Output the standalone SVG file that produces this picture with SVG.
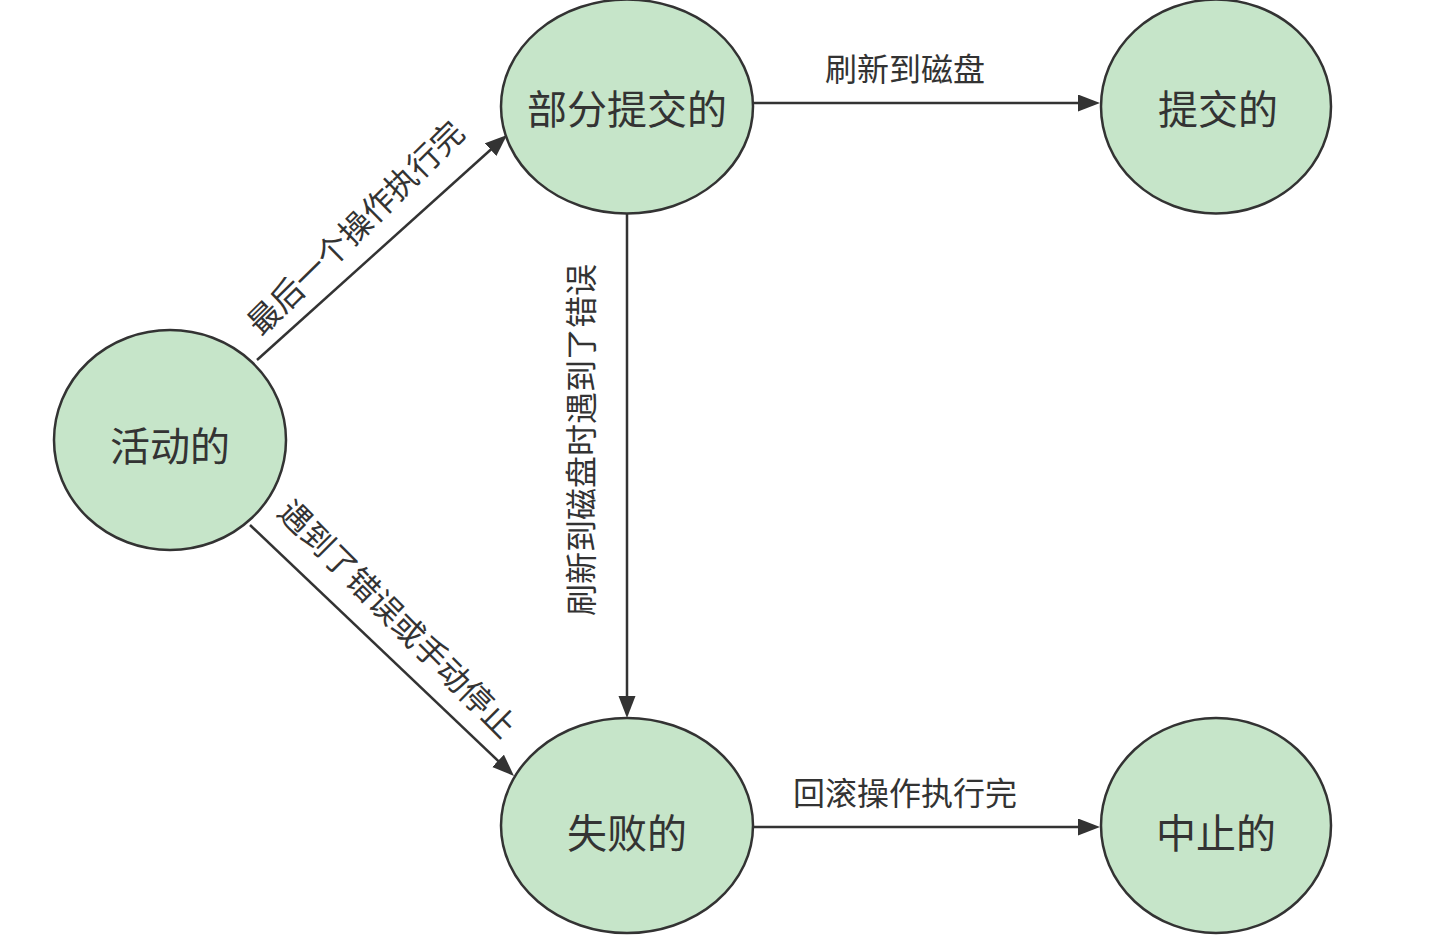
<svg xmlns="http://www.w3.org/2000/svg" width="1447" height="935" viewBox="0 0 1447 935">
  <style>
    .node ellipse { fill: #c6e5c9; stroke: #333333; stroke-width: 2.5; }
    .node text { font-family: "Noto Sans CJK SC", "Liberation Sans", sans-serif; font-size: 40px; fill: #333333; text-anchor: middle; dominant-baseline: central; }
    .edge line { stroke: #333333; stroke-width: 2.5; fill: none; marker-end: url(#arrow); }
    .elabel { font-family: "Noto Sans CJK SC", "Liberation Sans", sans-serif; font-size: 32px; fill: #333333; text-anchor: middle; dominant-baseline: central; }
  </style>
  <defs>
    <marker id="arrow" markerUnits="userSpaceOnUse" markerWidth="24" markerHeight="18" refX="10" refY="8.5" orient="auto">
      <path d="M0,0 L22,8.5 L0,17 Z" fill="#333333"/>
    </marker>
  </defs>
  <rect x="0" y="0" width="1447" height="935" fill="#ffffff"/>

  <g id="connectors">
    <g class="edge" id="e-active-partial">
      <line x1="257" y1="360" x2="498.1" y2="143"/>
      <text class="elabel" transform="translate(354,226) rotate(-44.5)">最后一个操作执行完</text>
    </g>
    <g class="edge" id="e-active-failed">
      <line x1="250" y1="525" x2="505.3" y2="767.7"/>
      <text class="elabel" transform="translate(399,617) rotate(45)">遇到了错误或手动停止</text>
    </g>
    <g class="edge" id="e-partial-failed">
      <line x1="627" y1="213" x2="627" y2="706"/>
      <text class="elabel" transform="translate(579,440) rotate(-90)">刷新到磁盘时遇到了错误</text>
    </g>
    <g class="edge" id="e-partial-committed">
      <line x1="753" y1="103" x2="1088" y2="103"/>
      <text class="elabel" x="905" y="67">刷新到磁盘</text>
    </g>
    <g class="edge" id="e-failed-aborted">
      <line x1="753" y1="827" x2="1088" y2="827"/>
      <text class="elabel" x="905" y="791">回滚操作执行完</text>
    </g>
  </g>

  <g class="node" id="n-active">
    <ellipse cx="170" cy="440" rx="116" ry="110"/>
    <text x="170" y="444">活动的</text>
  </g>
  <g class="node" id="n-partial">
    <ellipse cx="627" cy="106.5" rx="126" ry="107"/>
    <text x="627" y="106.5">部分提交的</text>
  </g>
  <g class="node" id="n-committed">
    <ellipse cx="1216" cy="106.5" rx="115" ry="107"/>
    <text x="1218" y="106.5">提交的</text>
  </g>
  <g class="node" id="n-failed">
    <ellipse cx="627" cy="825.5" rx="126" ry="107.5"/>
    <text x="627" y="831">失败的</text>
  </g>
  <g class="node" id="n-aborted">
    <ellipse cx="1216" cy="825.5" rx="115" ry="107.5"/>
    <text x="1216" y="831">中止的</text>
  </g>
</svg>
